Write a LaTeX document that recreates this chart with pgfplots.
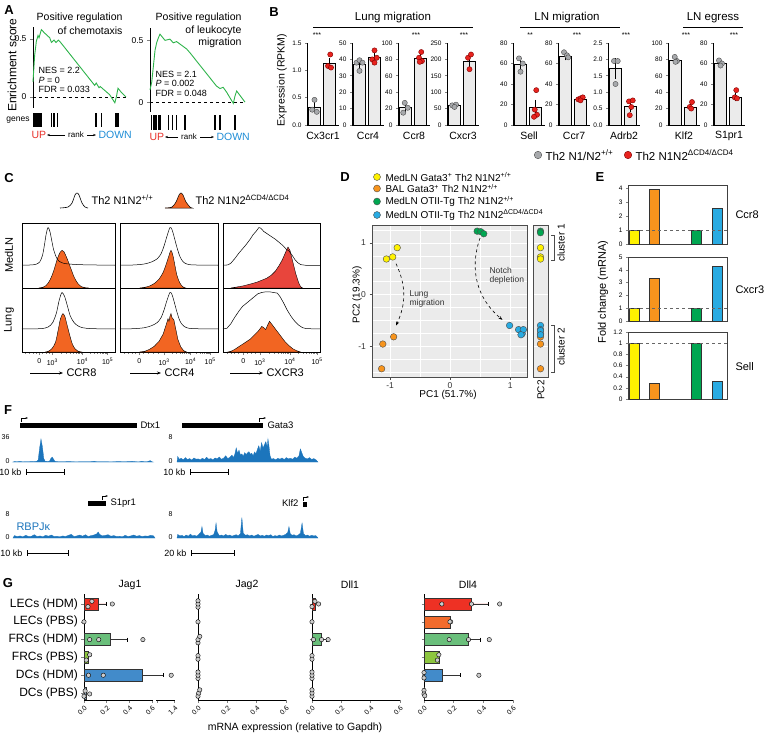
\documentclass[border=0pt]{standalone}
\usepackage{fontspec}
\setmainfont{Liberation Sans}
\usepackage{pgfplots}
\pgfplotsset{compat=1.18}
\usetikzlibrary{arrows.meta}
\definecolor{gseagreen}{HTML}{2DB34A}
\definecolor{upred}{HTML}{E8312A}
\definecolor{downblue}{HTML}{1F8DD6}
\definecolor{ptgrey}{HTML}{A7A9AC}
\definecolor{ptred}{HTML}{E8231E}
\definecolor{barbg}{HTML}{EBEBEB}
\definecolor{histor}{HTML}{F26522}
\definecolor{histred}{HTML}{E8453C}
\definecolor{dyel}{HTML}{FFF200}
\definecolor{dora}{HTML}{F7941D}
\definecolor{dgre}{HTML}{00A651}
\definecolor{dblu}{HTML}{29ABE2}
\definecolor{ggbg}{HTML}{EBEBEB}
\definecolor{chip}{HTML}{1C75BC}
\definecolor{gca}{HTML}{EE3124}
\definecolor{gcb}{HTML}{F26B2C}
\definecolor{gcc}{HTML}{6ABF7B}
\definecolor{gcd}{HTML}{8DC63F}
\definecolor{gce}{HTML}{428BCA}
\definecolor{gcf}{HTML}{A6C8E6}
\newcommand{\fs}[1]{\fontsize{#1}{#1}\selectfont}
\pgfplotsset{
 every axis/.append style={scale only axis, /pgf/number format/assume math mode=true},
 bsub/.style={anchor=south west, width=31.5pt, height=82pt, xmin=0.5, xmax=2.6, ymin=0,
   axis lines*=left, xtick=\empty, tick align=outside, major tick length=2pt,
   tick label style={font=\fs{6.5}}, axis line style={line width=0.6pt}, tick style={line width=0.6pt}, clip=false},
 cbox/.style={anchor=south west, xmin=0,xmax=100,ymin=0,ymax=100, xtick=\empty, ytick=\empty, axis line style={line width=0.7pt}, clip=false},
 cbot/.style={xtick pos=left, tick align=outside, major tick length=3pt, minor tick length=1.5pt, xticklabel style={font=\fs{7}}, tick style={line width=0.5pt}},
 eax/.style={anchor=south west, width=99pt, xmin=0.7, xmax=5.65, ymin=0, xtick=\empty, ytick pos=left, tick align=outside, major tick length=2pt, axis line style={black!75, line width=0.7pt}, tick label style={font=\fs{6.5}}, clip=false},
 fax/.style={anchor=south west, xmin=0, xmax=100, ymin=0, hide axis, clip=false},
 gax/.style={anchor=south west, height=106pt, ymin=0.61, ymax=6.56, xmin=0, axis lines*=left, ytick={1,...,6}, yticklabels={}, tick align=outside, major tick length=2.5pt, xticklabel style={rotate=45, anchor=north east, font=\fs{7}, inner sep=1.5pt}, yticklabel style={font=\fs{12}}, axis line style={line width=0.7pt}, tick style={line width=0.6pt}, clip=false},
 gbar/.style={xbar, bar width=0.67, draw=black!80, line width=0.5pt},
 gpt/.style={only marks, mark=*, mark size=2.2pt, mark options={fill=black!20, draw=black, line width=0.4pt}},
}
\newcommand{\bsub}[8]{%
 \begin{axis}[bsub, at={(#1pt,-125pt)}, #2]
 \addplot[ybar, bar width=0.8, fill=barbg, draw=black, line width=0.6pt, error bars/.cd, y dir=both, y explicit, error bar style={black, line width=0.6pt}, error mark options={black, mark size=2pt, line width=0.6pt}] coordinates {#5};
 \addplot[only marks, mark=*, mark size=2.6pt, mark options={fill=ptgrey, draw=black!70, line width=0.4pt}] coordinates {#6};
 \addplot[only marks, mark=*, mark size=2.6pt, mark options={fill=ptred, draw=red!50!black, line width=0.4pt}] coordinates {#7};
 \end{axis}
 \node[font=\fs{10.5}] at ({#1+16},-136) {#3};
 \node[font=\fs{7}] at ({#1+#8},-35) {#4};
}
\begin{document}
\begin{tikzpicture}[x=1pt,y=1pt]
\path[use as bounding box] (0,0) rectangle (765,-746);
% ---------- Panel letters
\node[font=\bfseries\fs{13}] at (9,-10) {A};
\node[font=\bfseries\fs{13}] at (274,-12) {B};
\node[font=\bfseries\fs{13}] at (9,-178) {C};
\node[font=\bfseries\fs{13}] at (345,-177) {D};
\node[font=\bfseries\fs{13}] at (600,-177) {E};
\node[font=\bfseries\fs{13}] at (8,-410) {F};
\node[font=\bfseries\fs{13}] at (8,-583) {G};
% ---------- Panel A
\node[rotate=90, font=\fs{12}] at (12,-65) {Enrichment score};
\begin{axis}[anchor=south west, at={(33pt,-108pt)}, width=93pt, height=81pt, xmin=0, xmax=100, ymin=-0.095, ymax=0.603,
  axis x line=none, axis y line*=left, ytick={0,0.5}, yticklabels={0,0.5}, tick align=outside, major tick length=3pt,
  tick style={line width=0.6pt}, axis line style={line width=0.7pt}, tick label style={font=\fs{8.5}}, clip=false]
\addplot[black, dashed, line width=0.6pt] coordinates {(0,0)(100,0)};
\addplot[gseagreen, line width=0.9pt] coordinates {(0,0.13)(1.8,0.36)(3.6,0.48)(5.4,0.53)(6.5,0.51)(9,0.58)(12.6,0.55)(18,0.51)(19.8,0.47)(22.6,0.49)(24.7,0.47)(27.2,0.49)(29.7,0.47)(66.3,0.10)(68,0.12)(71,0.08)(72.3,0.09)(82.4,0.02)(88,-0.05)(89.6,0.0)(91.4,0.075)(95,0.04)(100,0)};
\end{axis}
\begin{axis}[anchor=south west, at={(33pt,-127pt)}, width=93pt, height=14pt, xmin=0,xmax=100,ymin=0,ymax=1, hide axis]
\addplot[ycomb, black, line width=1.1pt] coordinates {(0.4,1)(2.2,1)(3.6,1)(5,1)(6.5,1)(7.9,1)(9.3,1)(20,1)(22.6,1)(26.1,1)(67.7,1)(73.8,1)(88.9,1)(90,1)(91,1)(92,1)};
\end{axis}
\node[anchor=east, font=\fs{10.5}] at (126,-18) {Positive regulation};
\node[anchor=east, font=\fs{10.5}] at (126,-31) {of chemotaxis};
\node[anchor=west, font=\fs{9}] at (35,-70) {NES = 2.2};
\node[anchor=west, font=\fs{9}] at (35,-80) {\textit{P} = 0};
\node[anchor=west, font=\fs{9}] at (35,-89) {FDR = 0.033};
\node[font=\fs{8.5}] at (18,-120) {genes};
\node[anchor=west, text=upred, font=\fs{10.5}] at (28,-135) {UP};
\draw[-{Stealth[length=3pt]}, line width=0.6pt] (65,-135) -- (47,-135);
\node[font=\fs{8}] at (76,-135) {rank};
\draw[-{Stealth[length=3pt]}, line width=0.6pt] (87,-135) -- (96,-135);
\node[anchor=west, text=downblue, font=\fs{10.5}] at (95,-135) {DOWN};
\begin{axis}[anchor=south west, at={(150pt,-112pt)}, width=95pt, height=84pt, xmin=0, xmax=100, ymin=-0.08, ymax=0.6,
  axis x line=none, axis y line*=left, ytick={0,0.5}, yticklabels={0,0.5}, tick align=outside, major tick length=3pt,
  tick style={line width=0.6pt}, axis line style={line width=0.7pt}, tick label style={font=\fs{8.5}}, clip=false]
\addplot[black, dashed, line width=0.6pt] coordinates {(0,0)(100,0)};
\addplot[gseagreen, line width=0.9pt] coordinates {(0,0.10)(1.8,0.16)(5.3,0.42)(7,0.48)(8.8,0.52)(10.5,0.55)(15.8,0.50)(21,0.51)(24.5,0.48)(28,0.49)(33.3,0.46)(38.6,0.43)(42,0.40)(70,0.13)(73.7,0.11)(77,0.12)(80.7,0.08)(87.7,-0.01)(89.5,0.05)(91.2,0.09)(100,0.0)};
\end{axis}
\begin{axis}[anchor=south west, at={(150pt,-130pt)}, width=95pt, height=15pt, xmin=0,xmax=100,ymin=0,ymax=1, hide axis]
\addplot[ycomb, black, line width=1.1pt] coordinates {(1.8,1)(3.5,1)(5.3,1)(7,1)(9,1)(10.5,1)(19.3,1)(23.5,1)(28,1)(36.8,1)(68.4,1)(73.7,1)(88.8,1)(89.8,1)};
\end{axis}
\node[anchor=east, font=\fs{10.5}] at (245,-18) {Positive regulation};
\node[anchor=east, font=\fs{10.5}] at (245,-31) {of leukocyte};
\node[anchor=east, font=\fs{10.5}] at (245,-43) {migration};
\node[anchor=west, font=\fs{9}] at (152,-74) {NES = 2.1};
\node[anchor=west, font=\fs{9}] at (152,-83) {\textit{P} = 0.002};
\node[anchor=west, font=\fs{9}] at (152,-93) {FDR = 0.048};
\node[anchor=west, text=upred, font=\fs{10.5}] at (146,-137) {UP};
\draw[-{Stealth[length=3pt]}, line width=0.6pt] (178,-137) -- (165,-137);
\node[font=\fs{8}] at (189,-137) {rank};
\draw[-{Stealth[length=3pt]}, line width=0.6pt] (200,-137) -- (214,-137);
\node[anchor=west, text=downblue, font=\fs{10.5}] at (213,-137) {DOWN};
% ---------- Panel B
\node[rotate=90, font=\fs{10.5}] at (282,-80) {Expression (RPKM)};
\node[font=\fs{11.5}] at (393,-18) {Lung migration};
\draw[line width=0.6pt] (313,-27) -- (473,-27);
\node[font=\fs{11.5}] at (567,-18) {LN migration};
\draw[line width=0.6pt] (520,-27) -- (620,-27);
\node[font=\fs{11.5}] at (713,-18) {LN egress};
\draw[line width=0.6pt] (683,-27) -- (743,-27);
\bsub{307}{ymax=1.5, ytick={0,0.5,1,1.5}, yticklabels={0.0,0.5,1.0,1.5}}{Cx3cr1}{***}{(1,0.33) +- (0,0.06) (2,1.13) +- (0,0.06)}{(1.0,0.46)(0.85,0.28)(1.15,0.24)}{(2.05,1.29)(1.9,1.08)(2.1,1.05)}{10}
\bsub{352}{ymax=50, ytick={0,10,...,50}}{Ccr4}{}{(1,37) +- (0,2) (2,41) +- (0,2)}{(0.8,38)(1.0,39.5)(1.2,38)(1.0,33)}{(1.85,40)(2.0,45.5)(2.15,41)(2.0,38)}{18}
\bsub{398}{ymax=100, ytick={0,20,...,100}}{Ccr8}{***}{(1,21) +- (0,3.5) (2,81) +- (0,3)}{(0.95,27)(1.15,21)(0.85,15)}{(2.05,89)(1.9,82)(2.1,78)(1.95,77)}{18}
\bsub{447}{ymax=250, ytick={0,50,...,250}}{Cxcr3}{***}{(1,59) +- (0,3) (2,195) +- (0,14)}{(0.85,60)(1.1,62)(1.0,55)}{(1.9,205)(2.1,215)(2.0,170)}{17}
\bsub{513}{ymax=80, ytick={0,20,...,80}}{Sell}{**}{(1,59) +- (0,4) (2,17) +- (0,5.5)}{(0.9,65)(1.15,60)(1.0,52)}{(2.05,34)(1.95,15)(2.1,10)(1.9,8)}{17}
\bsub{558}{ymax=80, ytick={0,20,...,80}}{Ccr7}{***}{(1,67) +- (0,2) (2,25) +- (0,1)}{(0.9,71)(1.1,68)(1.18,66)}{(1.85,25)(2.0,26)(2.15,27)(2.0,24)}{19}
\bsub{608}{ymax=2.5, ytick={0,0.5,...,2.5}, yticklabels={0.0,0.5,1.0,1.5,2.0,2.5}}{Adrb2}{***}{(1,1.72) +- (0,0.25) (2,0.57) +- (0,0.1)}{(0.9,1.95)(1.15,1.95)(1.0,1.25)}{(1.9,0.72)(2.15,0.75)(2.05,0.55)(1.95,0.3)}{18}
\bsub{668}{ymax=100, ytick={0,20,...,100}}{Klf2}{***}{(1,79) +- (0,2) (2,22) +- (0,2)}{(0.95,83)(1.1,78)(1.0,77)}{(2.1,28)(1.95,22)(2.05,20)}{18}
\bsub{713}{ymax=80, ytick={0,20,...,80}}{S1pr1}{***}{(1,60) +- (0,2) (2,27) +- (0,2)}{(0.9,63)(1.1,60)(1.0,58)}{(2.05,34)(1.95,27)(2.1,26)}{21}
\node[circle, fill=ptgrey, draw=black!70, inner sep=0pt, minimum size=7.5pt] at (538,-155) {};
\node[anchor=west, font=\fs{11.5}] at (542,-155) {Th2 N1/N2\textsuperscript{+/+}};
\node[circle, fill=ptred, draw=red!50!black, inner sep=0pt, minimum size=7.5pt] at (628,-155) {};
\node[anchor=west, font=\fs{11.5}] at (632,-155) {Th2 N1N2\textsuperscript{ΔCD4/ΔCD4}};
% ---------- Panel C
\draw[line width=0.6pt] plot[smooth] coordinates {(60,-208)(68,-207)(72,-203)(75,-195)(77,-193)(79,-195)(82,-203)(85,-207)(88,-208)};
\node[anchor=west, font=\fs{11}] at (88,-200) {Th2 N1N2\textsuperscript{+/+}};
\filldraw[fill=histor, draw=black, line width=0.5pt] plot[smooth] coordinates {(165,-208)(172,-207)(176,-202)(179,-195)(181,-193)(183,-195)(186,-202)(190,-207)(192,-208)} -- cycle;
\node[anchor=west, font=\fs{11}] at (192,-200) {Th2 N1N2\textsuperscript{ΔCD4/ΔCD4}};
\node[rotate=90, font=\fs{11}] at (9,-255) {MedLN};
\node[rotate=90, font=\fs{11}] at (9,-320) {Lung};
% row 1
\begin{axis}[cbox, at={(22pt,-288pt)}, width=93pt, height=65pt]
\addplot[fill=histor, draw=black, line width=0.4pt, smooth] coordinates {(18,0)(22,1)(26,4)(30,12)(34,26)(38,45)(41,55)(43,58)(45,56)(48,47)(52,32)(56,17)(60,7)(64,2)(68,0.5)(72,0)} \closedcycle;
\addplot[black, line width=0.5pt, smooth] coordinates {(0,35)(10,35.5)(15,36.5)(19,40)(22,50)(24,65)(26,83)(28,93)(30,87)(32,73)(34,59)(37,47)(40,41)(45,38)(50,37)(60,36)(75,35.5)(100,35)};
\end{axis}
\begin{axis}[cbox, at={(120pt,-288pt)}, width=98pt, height=65pt]
\addplot[fill=histor, draw=black, line width=0.4pt, smooth] coordinates {(20,0)(25,1)(30,3)(35,7)(40,14)(44,24)(47,36)(50,50)(52,58)(54,50)(56,35)(58,20)(61,8)(64,2)(67,0)} \closedcycle;
\addplot[black, line width=0.5pt, smooth] coordinates {(0,35)(15,35.5)(25,37)(32,40)(38,45)(42,53)(45,65)(48,80)(51,93)(53,90)(55,80)(58,63)(61,49)(64,41)(68,37)(75,35.5)(100,35)};
\end{axis}
\begin{axis}[cbox, at={(223pt,-288pt)}, width=97pt, height=65pt]
\addplot[fill=histred, draw=black, line width=0.4pt] coordinates {(8,0)(12,1)(20,3)(28,6)(35,9)(40,12)(45,15)(50,20)(54,26)(58,35)(61,43)(64,53)(66,60)(67,63)(69,58)(72,40)(75,22)(78,8)(80,2)(82,0)} \closedcycle;
\addplot[black, line width=0.5pt] coordinates {(0,35)(5,35.5)(8,38)(12,45)(16,53)(20,60)(24,67)(28,75)(31,82)(34,87)(37,93)(39,92)(42,87)(46,83)(50,79)(54,75)(58,70)(62,65)(65,60)(68,57)(71,51)(74,44)(77,39)(80,36)(85,35)(100,35)};
\end{axis}
% row 2
\begin{axis}[cbox, cbot, at={(22pt,-352pt)}, width=93pt, height=64pt, xtick={18.6,32.6,65,92}, xticklabels={0,10\textsuperscript{3},10\textsuperscript{4},10\textsuperscript{5}},
  minor xtick={4,8,12,15,22,26,29,42.4,48.1,52.1,55.2,57.8,60.0,61.9,63.5,73.1,77.9,81.3,83.9,86.0,87.8,89.4,90.8}]
\addplot[fill=histor, draw=black, line width=0.4pt, smooth] coordinates {(25,0)(28,1)(32,5)(36,15)(39,35)(41,50)(43,58)(44,60)(46,56)(48,45)(51,28)(54,13)(57,5)(60,1.5)(64,0)} \closedcycle;
\addplot[black, line width=0.5pt, smooth] coordinates {(0,36)(20,36.5)(28,39)(33,46)(37,61)(40,81)(43,93)(46,86)(49,71)(52,56)(56,46)(60,41)(65,38)(75,36.5)(100,36)};
\end{axis}
\begin{axis}[cbox, cbot, at={(120pt,-352pt)}, width=98pt, height=64pt, xtick={19.7,45,72,92}, xticklabels={0,10\textsuperscript{3},10\textsuperscript{4},10\textsuperscript{5}},
  minor xtick={4,8,12,16,24,29,34,39,53.1,57.9,61.3,63.9,66.0,67.8,69.4,70.8,78.0,81.5,84.0,86.0,87.6,88.9,90.1,91.1}]
\addplot[fill=histor, draw=black, line width=0.4pt] coordinates {(20,0)(25,1)(30,4)(35,9)(40,17)(44,28)(47,42)(49,52)(50,48)(51,56)(52,60)(53,54)(55,50)(57,35)(59,20)(62,8)(65,2)(68,0)} \closedcycle;
\addplot[black, line width=0.5pt, smooth] coordinates {(0,36)(15,36.5)(25,38)(32,41)(38,46)(42,54)(45,66)(48,81)(51,93)(53,90)(55,80)(58,63)(61,49)(64,42)(68,38)(75,36.5)(100,36)};
\end{axis}
\begin{axis}[cbox, cbot, at={(223pt,-352pt)}, width=97pt, height=64pt, xtick={21,38,69,97}, xticklabels={0,10\textsuperscript{3},10\textsuperscript{4},10\textsuperscript{5}},
  minor xtick={4,8,12,16,25,29,33,47.3,52.8,56.7,59.7,62.1,64.2,66.0,67.6,77.4,82.4,85.9,88.6,90.8,92.7,94.3,95.7}]
\addplot[fill=histor, draw=black, line width=0.4pt] coordinates {(5,0)(8,1)(12,4)(16,8)(20,12)(24,16)(28,20)(32,26)(36,32)(40,40)(42,38)(44,35)(46,42)(48,48)(50,44)(53,38)(56,32)(60,24)(64,16)(68,10)(72,5)(76,2)(80,0)} \closedcycle;
\addplot[black, line width=0.5pt] coordinates {(0,36)(4,37)(8,44)(12,54)(16,63)(20,71)(24,76)(28,81)(32,86)(36,91)(40,93)(44,94)(48,94)(52,93)(56,92)(59,86)(62,78)(66,66)(70,56)(74,48)(78,42)(82,38)(86,36.5)(100,36)};
\end{axis}
\draw[-{Stealth[length=4pt]}, line width=0.6pt] (30,-373) -- (63,-373);
\node[anchor=west, font=\fs{11}] at (63,-373) {CCR8};
\draw[-{Stealth[length=4pt]}, line width=0.6pt] (130,-373) -- (161,-373);
\node[anchor=west, font=\fs{11}] at (161,-373) {CCR4};
\draw[-{Stealth[length=4pt]}, line width=0.6pt] (230,-373) -- (263,-373);
\node[anchor=west, font=\fs{11}] at (263,-373) {CXCR3};
% ---------- Panel D
\node[circle, fill=dyel, draw=black!70, inner sep=0pt, minimum size=7pt] at (377,-177) {};
\node[anchor=west, font=\fs{10}] at (382,-177) {MedLN Gata3\textsuperscript{+} Th2 N1N2\textsuperscript{+/+}};
\node[circle, fill=dora, draw=black!70, inner sep=0pt, minimum size=7pt] at (377,-188.5) {};
\node[anchor=west, font=\fs{10}] at (382,-188.5) {BAL Gata3\textsuperscript{+} Th2 N1N2\textsuperscript{+/+}};
\node[circle, fill=dgre, draw=black!70, inner sep=0pt, minimum size=7pt] at (377,-201.5) {};
\node[anchor=west, font=\fs{10}] at (382,-201.5) {MedLN OTII-Tg Th2 N1N2\textsuperscript{+/+}};
\node[circle, fill=dblu, draw=black!70, inner sep=0pt, minimum size=7pt] at (377,-215) {};
\node[anchor=west, font=\fs{10}] at (382,-215) {MedLN OTII-Tg Th2 N1N2\textsuperscript{ΔCD4/ΔCD4}};
\begin{axis}[anchor=south west, at={(372pt,-377pt)}, width=155pt, height=152pt,
 xmin=-1.3,xmax=1.28,ymin=-1.6,ymax=1.35,
 axis background/.style={fill=ggbg},
 xtick={-1,0,1}, ytick={-1,0,1}, minor xtick={-0.5,0.5}, minor ytick={-1.5,-1.25,-0.75,-0.5,-0.25,0.25,0.5,0.75,1.25},
 grid=both, major grid style={white, line width=0.8pt}, minor grid style={white, line width=0.6pt},
 tick align=outside, xtick pos=left, ytick pos=left, major tick length=2.5pt, minor tick length=0pt,
 tick style={black!70, line width=0.6pt}, axis line style={black!70, line width=0.8pt},
 tick label style={font=\fs{8.5}, text=black!80}, clip=false]
\draw[dashed, line width=0.6pt, -{Stealth[length=4pt]}] (axis cs:-0.9,0.6) to[bend left=25] (axis cs:-0.9,-0.6);
\draw[dashed, line width=0.6pt, -{Stealth[length=4pt]}] (axis cs:0.5,1.1) to[bend right=35] (axis cs:0.87,-0.49);
\addplot[only marks, mark=*, mark size=3.3pt, mark options={fill=dyel, draw=black!70, line width=0.4pt}] coordinates {(-0.88,0.91)(-0.955,0.73)(-1.06,0.69)};
\addplot[only marks, mark=*, mark size=3.3pt, mark options={fill=dora, draw=black!70, line width=0.4pt}] coordinates {(-0.94,-0.82)(-1.12,-0.96)(-1.14,-1.44)};
\addplot[only marks, mark=*, mark size=3.3pt, mark options={fill=dgre, draw=black!70, line width=0.4pt}] coordinates {(0.45,1.23)(0.51,1.22)(0.56,1.18)};
\addplot[only marks, mark=*, mark size=3.3pt, mark options={fill=dblu, draw=black!70, line width=0.4pt}] coordinates {(0.99,-0.6)(1.14,-0.68)(1.2,-0.76)(1.22,-0.68)(1.18,-0.78)};
\end{axis}
\node[anchor=west, font=\fs{8.5}, text=black!80] at (406,-294) {Lung};
\node[anchor=west, font=\fs{8.5}, text=black!80] at (406,-303) {migration};
\node[anchor=west, font=\fs{8.5}, text=black!80] at (486,-270) {Notch};
\node[anchor=west, font=\fs{8.5}, text=black!80] at (486,-280) {depletion};
\node[font=\fs{10}] at (448,-395) {PC1 (51.7\%)};
\node[rotate=90, font=\fs{10}] at (357,-295) {PC2 (19.3\%)};
\begin{axis}[anchor=south west, at={(533pt,-377pt)}, width=15pt, height=152pt, xmin=0,xmax=1, ymin=-1.6,ymax=1.35,
 axis background/.style={fill=ggbg}, xtick=\empty, ytick={-1,0,1}, yticklabels={}, major tick length=0pt,
 ymajorgrids, major grid style={white, line width=0.8pt}, axis line style={black!70, line width=0.8pt}, clip=false]
\addplot[only marks, mark=*, mark size=3.3pt, mark options={fill=dyel, draw=black!70, line width=0.4pt}] coordinates {(0.5,0.91)(0.5,0.73)(0.5,0.69)};
\addplot[only marks, mark=*, mark size=3.3pt, mark options={fill=dora, draw=black!70, line width=0.4pt}] coordinates {(0.5,-0.82)(0.5,-0.96)(0.5,-1.44)};
\addplot[only marks, mark=*, mark size=3.3pt, mark options={fill=dgre, draw=black!70, line width=0.4pt}] coordinates {(0.5,1.23)(0.5,1.2)};
\addplot[only marks, mark=*, mark size=3.3pt, mark options={fill=dblu, draw=black!70, line width=0.4pt}] coordinates {(0.5,-0.6)(0.5,-0.68)(0.5,-0.76)(0.5,-0.7)(0.5,-0.78)};
\end{axis}
\node[rotate=90, font=\fs{10}] at (541,-390) {PC2};
\draw[line width=0.6pt, black!70] (551,-235) -- (554,-235) -- (554,-260) -- (551,-260);
\node[rotate=90, font=\fs{10}] at (561,-243) {cluster 1};
\draw[line width=0.6pt, black!70] (551,-325) -- (554,-325) -- (554,-372) -- (551,-372);
\node[rotate=90, font=\fs{10}] at (561,-347) {cluster 2};
% ---------- Panel E
\node[rotate=90, font=\fs{11}] at (603,-292) {Fold change (mRNA)};
\begin{axis}[eax, at={(628pt,-244pt)}, height=59pt, ymax=4.2, ytick={0,...,4}]
\addplot[ybar, bar width=0.5, fill=dyel, draw=black!80, line width=0.6pt] coordinates {(1,1)};
\addplot[ybar, bar width=0.5, fill=dora, draw=black!80, line width=0.6pt] coordinates {(2,3.9)};
\addplot[ybar, bar width=0.5, fill=dgre, draw=black!80, line width=0.6pt] coordinates {(4.1,1)};
\addplot[ybar, bar width=0.5, fill=dblu, draw=black!80, line width=0.6pt] coordinates {(5.15,2.55)};
\addplot[dashed, black!60, line width=0.7pt] coordinates {(0.7,1)(5.65,1)};
\end{axis}
\begin{axis}[eax, at={(628pt,-321pt)}, height=64pt, ymax=5, ytick={0,...,5}]
\addplot[ybar, bar width=0.5, fill=dyel, draw=black!80, line width=0.6pt] coordinates {(1,1)};
\addplot[ybar, bar width=0.5, fill=dora, draw=black!80, line width=0.6pt] coordinates {(2,3.3)};
\addplot[ybar, bar width=0.5, fill=dgre, draw=black!80, line width=0.6pt] coordinates {(4.1,1)};
\addplot[ybar, bar width=0.5, fill=dblu, draw=black!80, line width=0.6pt] coordinates {(5.15,4.3)};
\addplot[dashed, black!60, line width=0.7pt] coordinates {(0.7,1)(5.65,1)};
\end{axis}
\begin{axis}[eax, at={(628pt,-399pt)}, height=67pt, ymax=1.2, ytick={0,0.2,...,1.2}, yticklabels={0,0.2,0.4,0.6,0.8,1,1.2}]
\addplot[ybar, bar width=0.5, fill=dyel, draw=black!80, line width=0.6pt] coordinates {(1,1)};
\addplot[ybar, bar width=0.5, fill=dora, draw=black!80, line width=0.6pt] coordinates {(2,0.29)};
\addplot[ybar, bar width=0.5, fill=dgre, draw=black!80, line width=0.6pt] coordinates {(4.1,1)};
\addplot[ybar, bar width=0.5, fill=dblu, draw=black!80, line width=0.6pt] coordinates {(5.15,0.31)};
\addplot[dashed, black!60, line width=0.7pt] coordinates {(0.7,1)(5.65,1)};
\end{axis}
\node[anchor=west, font=\fs{11}] at (732,-215) {Ccr8};
\node[anchor=west, font=\fs{11}] at (732,-290) {Cxcr3};
\node[anchor=west, font=\fs{11}] at (732,-367) {Sell};
% ---------- Panel F
\draw[line width=5pt] (20,-425) -- (137,-425);
\draw[line width=0.6pt, -{Stealth[length=2.5pt]}] (21,-422) -- (21,-418) -- (28,-418);
\node[anchor=west, font=\fs{9.5}] at (137,-425) {Dtx1};
\draw[line width=5pt] (182,-425) -- (263,-425);
\draw[line width=0.6pt, -{Stealth[length=2.5pt]}] (259,-422) -- (259,-418) -- (266,-418);
\node[anchor=west, font=\fs{9.5}] at (264,-425) {Gata3};
\draw[line width=5pt] (88,-503) -- (106,-503);
\draw[line width=0.6pt, -{Stealth[length=2.5pt]}] (102,-500) -- (102,-496) -- (108,-496);
\node[anchor=west, font=\fs{9.5}] at (107,-503) {S1pr1};
\draw[line width=5pt] (303,-504) -- (307,-504);
\draw[line width=0.6pt, -{Stealth[length=2.5pt]}] (303,-501) -- (303,-497) -- (309,-497);
\node[anchor=east, font=\fs{9.5}] at (302,-503) {Klf2};
\node[anchor=east, font=\fs{7}] at (13,-437) {36};
\node[anchor=east, font=\fs{7}] at (13,-461) {0};
\node[anchor=east, font=\fs{7}] at (176,-437) {8};
\node[anchor=east, font=\fs{7}] at (176,-461) {0};
\node[anchor=east, font=\fs{7}] at (13,-514) {8};
\node[anchor=east, font=\fs{7}] at (13,-537) {0};
\node[anchor=east, font=\fs{7}] at (176,-514) {8};
\node[anchor=east, font=\fs{7}] at (176,-537) {0};
\node[anchor=west, text=chip, font=\fs{11}] at (13,-527) {RBPJκ};
\begin{axis}[fax, at={(13pt,-462pt)}, width=140pt, height=25pt, ymax=36]
\addplot[fill=chip, draw=chip, line width=0.3pt] coordinates {(0,0)(1,0.6)(3,0.4)(5,0.8)(7,0.3)(9,0.5)(11,0.4)(13,0.6)(15,0.5)(17,0.9)(18,3)(19,20)(20,33)(21,22)(22,5)(23,1)(25,0.6)(26,1)(27,5)(28,7)(29,4)(30,0.8)(32,0.5)(35,0.4)(40,0.6)(45,0.3)(50,0.5)(55,0.4)(58,0.9)(60,0.4)(65,0.5)(70,0.3)(75,0.6)(80,0.4)(85,0.8)(88,0.4)(90,0.3)(92,0.9)(94,0.4)(96,0.5)(98,2)(99,0.5)(100,0)} \closedcycle;
\end{axis}
\begin{axis}[fax, at={(177pt,-462pt)}, width=141pt, height=25pt, ymax=8]
\addplot[fill=chip, draw=chip, line width=0.3pt] coordinates {(0,0)(0.5,1.8)(1.5,0.9)(3,1.2)(4.5,0.7)(6,1.4)(7.5,0.8)(9,1.1)(10.5,0.6)(12,1.3)(13.5,0.9)(15,1.0)(16.5,0.7)(18,1.2)(19.5,0.8)(21,1.5)(22.5,0.9)(24,1.1)(25.5,0.7)(27,1.3)(28.5,1.0)(30,1.6)(31.5,0.9)(33,1.2)(34.5,2.0)(36,1.1)(37.5,1.5)(39,2.2)(40,1.4)(41,2.5)(42,4.5)(43,2.8)(44,3.8)(45,2.2)(46,2.6)(47,1.8)(48,3.0)(49,2.4)(50,2.9)(51,3.3)(52,2.5)(53,2.8)(54,2.0)(55,3.2)(56,2.7)(57,4.0)(58,5.2)(59,3.5)(60,6.2)(61,4.5)(62,5.5)(63,6.5)(64,4.8)(64.5,7.4)(65,6.0)(66,2.0)(67,0.9)(68.5,1.1)(70,0.7)(71.5,1.2)(73,0.9)(74.5,1.3)(76,0.8)(77.5,1.4)(79,1.0)(80.5,1.2)(82,0.9)(83.5,1.6)(85,1.2)(86.5,2.0)(87.5,4.2)(88.5,3.0)(89.5,1.8)(91,1.2)(92.5,1.0)(94,1.4)(95.5,0.8)(97,1.1)(98.5,0.7)(100,0)} \closedcycle;
\end{axis}
\begin{axis}[fax, at={(13pt,-538pt)}, width=142pt, height=24pt, ymax=8]
\addplot[fill=chip, draw=chip, line width=0.3pt] coordinates {(0,0)(1,0.8)(3,0.5)(5,0.7)(7,0.4)(9,0.9)(11,0.5)(13,0.6)(15,1.1)(17,0.5)(19,0.7)(21,0.4)(23,0.9)(25,0.6)(27,1.0)(29,0.5)(31,0.6)(33,0.4)(35,0.7)(37,0.5)(39,0.9)(41,1.2)(43,0.5)(45,0.7)(47,1.0)(49,0.6)(51,1.1)(53,0.5)(55,0.8)(57,1.0)(59,1.4)(60,2.0)(61,1.2)(63,0.7)(65,0.9)(67,1.1)(69,0.6)(71,0.8)(73,0.5)(75,0.6)(77,0.4)(79,0.9)(81,0.5)(83,0.7)(85,1.0)(87,0.6)(89,0.8)(91,0.5)(93,0.7)(95,0.6)(97,0.9)(99,0.7)(100,0)} \closedcycle;
\end{axis}
\begin{axis}[fax, at={(177pt,-538pt)}, width=141pt, height=24pt, ymax=8]
\addplot[fill=chip, draw=chip, line width=0.3pt] coordinates {(0,0)(0.5,1.2)(2,0.7)(3.5,0.9)(5,0.5)(6.5,1.0)(8,0.6)(9.5,1.3)(11,0.7)(12.5,0.9)(14,0.6)(15.5,1.2)(17,2.0)(17.7,3.8)(18.5,1.5)(20,0.8)(21.5,1.0)(23,0.6)(24.5,0.9)(26,1.1)(27,2.5)(27.7,5.0)(28.5,2.0)(30,0.8)(31.5,1.0)(33,0.7)(34.5,1.2)(36,0.8)(37.5,1.0)(39,0.6)(40.5,0.9)(42,1.1)(43.5,0.7)(45,1.5)(46,6.8)(47,1.6)(48.5,0.9)(50,1.1)(51.5,0.7)(53,1.0)(54.5,0.6)(56,0.9)(57.5,1.2)(59,0.7)(60.5,0.9)(62,0.6)(63.5,1.0)(65,0.8)(66.5,1.1)(68,0.5)(69.5,0.8)(71,0.6)(72.5,1.0)(74,0.7)(75.5,0.9)(77,1.2)(78.5,1.8)(79.4,3.8)(80.3,1.5)(81.5,0.9)(83,1.1)(84.5,0.7)(86,1.0)(87.5,1.6)(88.7,5.0)(89.7,1.5)(91,0.8)(92.5,1.0)(94,0.6)(95.5,0.9)(97,0.7)(98.5,0.8)(100,0)} \closedcycle;
\end{axis}
\draw[line width=0.6pt] (26,-472) -- (64,-472); \draw[line width=0.6pt] (26,-469) -- (26,-475); \draw[line width=0.6pt] (64,-469) -- (64,-475);
\node[anchor=east, font=\fs{9}] at (25,-472) {10 kb};
\draw[line width=0.6pt] (190,-472) -- (228,-472); \draw[line width=0.6pt] (190,-469) -- (190,-475); \draw[line width=0.6pt] (228,-469) -- (228,-475);
\node[anchor=east, font=\fs{9}] at (189,-472) {10 kb};
\draw[line width=0.6pt] (27,-553) -- (68,-553); \draw[line width=0.6pt] (27,-550) -- (27,-556); \draw[line width=0.6pt] (68,-550) -- (68,-556);
\node[anchor=east, font=\fs{9}] at (26,-553) {10 kb};
\draw[line width=0.6pt] (191,-553) -- (234,-553); \draw[line width=0.6pt] (191,-550) -- (191,-556); \draw[line width=0.6pt] (234,-550) -- (234,-556);
\node[anchor=east, font=\fs{9}] at (190,-553) {20 kb};
% ---------- Panel G
\begin{axis}[gax, at={(84pt,-700pt)}, width=90.6pt, xmax=0.8, xtick={0,0.2,0.4,0.6,0.645,0.8}, xticklabels={0.0,0.2,0.4,0.6,,1.4},
  yticklabels={DCs (PBS),DCs (HDM),FRCs (PBS),FRCs (HDM),LECs (PBS),LECs (HDM)},
  after end axis/.code={\fill[white] (axis cs:0.612,0.45) rectangle (axis cs:0.634,0.75);}]
\addplot[gbar, fill=gca, error bars/.cd, x dir=plus, x explicit] coordinates {(0.125,6) +- (0.075,0)};
\addplot[gbar, fill=gcc, error bars/.cd, x dir=plus, x explicit] coordinates {(0.23,4) +- (0.15,0)};
\addplot[gbar, fill=gcd] coordinates {(0.035,3)};
\addplot[gbar, fill=gce, error bars/.cd, x dir=plus, x explicit] coordinates {(0.51,2) +- (0.19,0)};
\addplot[gbar, fill=gcf] coordinates {(0.02,1)};
\addplot[gpt] coordinates {(0.035,5.85)(0.07,6.15)(0.25,6.0)(0,5)(0.05,4)(0.13,4)(0.52,4)(0.05,3.15)(0.02,2.85)(0.04,2)(0.17,2)(0.77,2)(0.01,1.12)(0.05,0.95)(0.0,0.82)};
\end{axis}
\begin{axis}[gax, at={(198pt,-700pt)}, width=88pt, xmax=0.6, xtick={0,0.2,0.4,0.6}, xticklabels={0.0,0.2,0.4,0.6}]
\addplot[gpt] coordinates {(0,5.82)(0,6.0)(0,6.18)(0,5)(0,3.82)(0,4.0)(0.012,4.18)(0,3.1)(0,2.9)(0,1.82)(0,2)(0,2.18)(0,0.82)(0.005,1.0)(0.012,1.18)};
\end{axis}
\begin{axis}[gax, at={(312pt,-700pt)}, width=88pt, xmax=0.6, xtick={0,0.2,0.4,0.6}, xticklabels={0.0,0.2,0.4,0.6}]
\addplot[gbar, fill=gca] coordinates {(0.02,6)};
\addplot[gbar, fill=gcc, error bars/.cd, x dir=plus, x explicit] coordinates {(0.065,4) +- (0.035,0)};
\addplot[gpt] coordinates {(0.02,6.15)(0.045,6.0)(0.0,5.85)(0,5)(0.01,4)(0.065,4)(0.11,4)(0,3.1)(0,2.9)(0,1.82)(0,2)(0,2.18)(0,0.82)(0,1.0)(0,1.18)};
\end{axis}
\begin{axis}[gax, at={(424pt,-700pt)}, width=89pt, xmax=0.6, xtick={0,0.2,0.4,0.6}, xticklabels={0.0,0.2,0.4,0.6}]
\addplot[gbar, fill=gca, error bars/.cd, x dir=plus, x explicit] coordinates {(0.32,6) +- (0.11,0)};
\addplot[gbar, fill=gcb] coordinates {(0.18,5)};
\addplot[gbar, fill=gcc, error bars/.cd, x dir=plus, x explicit] coordinates {(0.30,4) +- (0.08,0)};
\addplot[gbar, fill=gcd] coordinates {(0.10,3)};
\addplot[gbar, fill=gce, error bars/.cd, x dir=plus, x explicit] coordinates {(0.12,2) +- (0.125,0)};
\addplot[gbar, fill=gcf] coordinates {(0.005,1)};
\addplot[gpt] coordinates {(0.12,6)(0.32,6)(0.51,6)(0.18,5)(0.175,5)(0.17,4)(0.30,4)(0.44,4)(0.10,3.15)(0.09,2.85)(0,2.15)(0,1.85)(0.37,2)(0,1.15)(0,0.95)(0.005,0.85)};
\end{axis}
\node[font=\fs{10.5}] at (130,-585) {Jag1};
\node[font=\fs{10.5}] at (247,-585) {Jag2};
\node[font=\fs{10.5}] at (350,-585) {Dll1};
\node[font=\fs{10.5}] at (468,-585) {Dll4};
\node[font=\fs{10.5}] at (295,-728) {mRNA expression (relative to Gapdh)};
\end{tikzpicture}
\end{document}
